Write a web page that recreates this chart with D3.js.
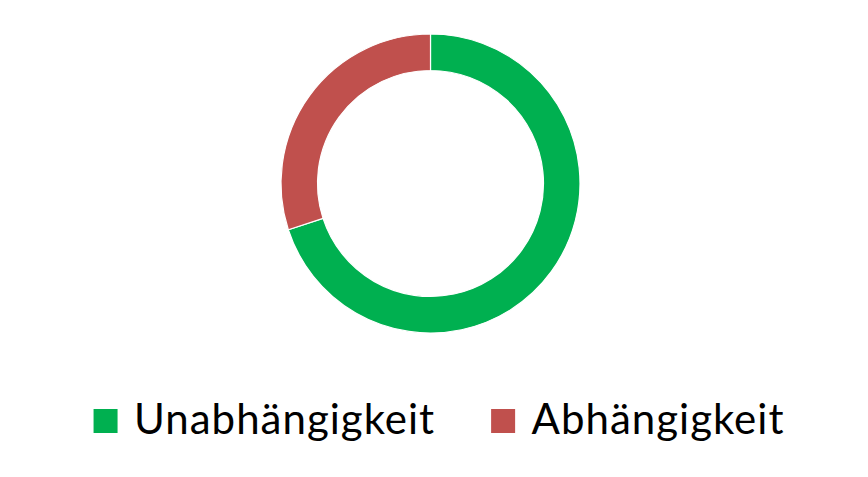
<!DOCTYPE html>
<html>
<head>
<meta charset="utf-8">
<script src="https://cdn.jsdelivr.net/npm/d3@7"></script>
<style>
  html, body { margin: 0; padding: 0; background: #fff; }
</style>
</head>
<body>
<div id="chart"></div>
<script>
const categories = ['Unabhängigkeit', 'Abhängigkeit'];
const values = [70, 30];
const colors = ['#00B050', '#C0504D'];

const width = 868, height = 477;
const cx = 430.5, cy = 183.5;
const outerR = 149.5, innerR = 113;

const svg = d3.select('#chart')
  .append('svg')
  .attr('width', width)
  .attr('height', height);

const color = d3.scaleOrdinal().domain(categories).range(colors);

const pie = d3.pie().sort(null).value((d, i) => values[i]);
const arc = d3.arc().innerRadius(innerR).outerRadius(outerR);

// donut
svg.append('g')
  .attr('transform', `translate(${cx},${cy})`)
  .selectAll('path')
  .data(pie(categories))
  .join('path')
  .attr('d', arc)
  .attr('fill', (d) => color(d.data))
  .attr('stroke', '#fff')
  .attr('stroke-width', 1.2);

// legend
const fontSize = 42, box = 24, gapBox = 16.5, gapItem = 56;
const legend = svg.append('g');
const items = legend.selectAll('g.item')
  .data(categories)
  .join('g')
  .attr('class', 'item');

items.append('rect')
  .attr('width', box)
  .attr('height', box)
  .attr('y', 409)
  .attr('fill', (d) => color(d));

items.append('text')
  .attr('y', 433.5)
  .attr('font-family', 'Lato, "Open Sans", sans-serif')
  .attr('font-size', fontSize)
  .attr('letter-spacing', 1)
  .attr('fill', '#000')
  .text((d) => d);

// lay items out side by side, centred
let x = 0;
const offsets = [];
items.each(function () {
  const w = d3.select(this).select('text').node().getComputedTextLength();
  offsets.push(x);
  x += box + gapBox + w + gapItem;
});
const total = x - gapItem;
const start = 439 - total / 2;
items.each(function (d, i) {
  const g = d3.select(this);
  g.select('rect').attr('x', start + offsets[i]);
  g.select('text').attr('x', start + offsets[i] + box + gapBox);
});
</script>
</body>
</html>
